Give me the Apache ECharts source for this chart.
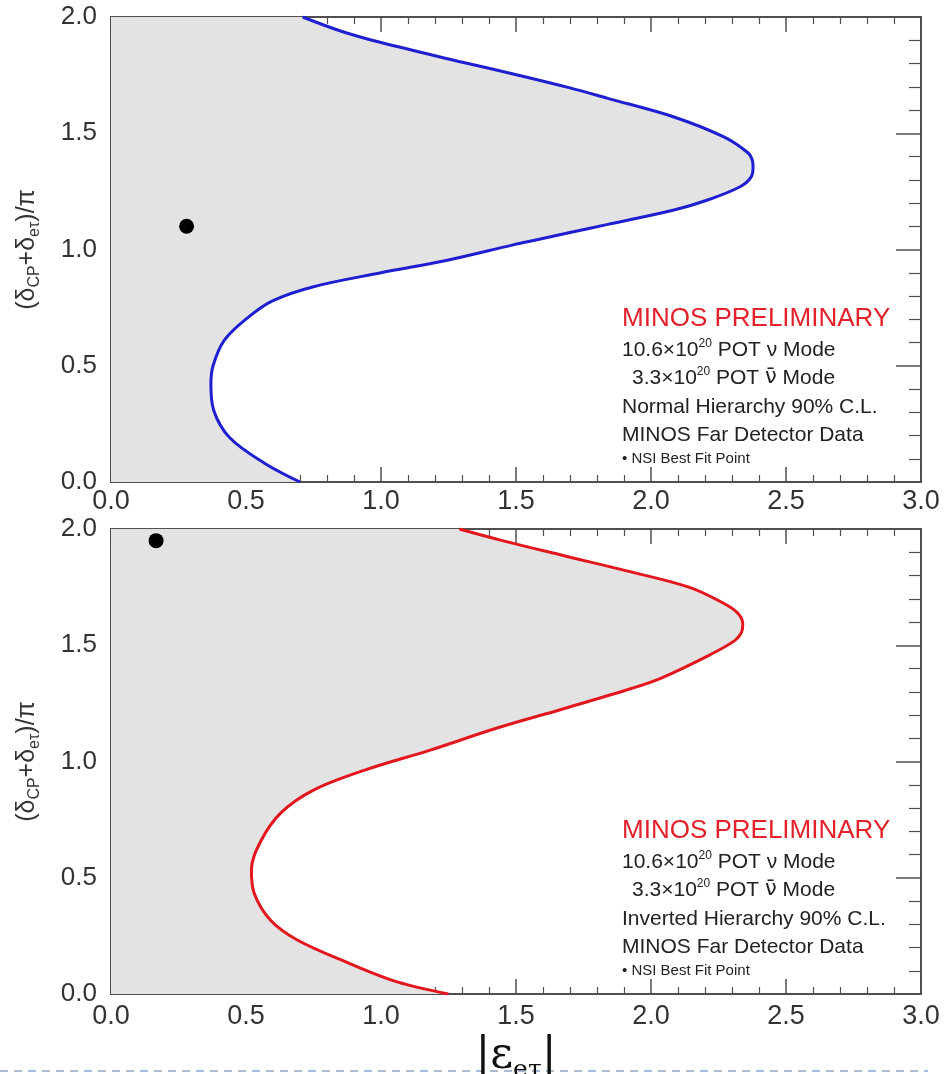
<!DOCTYPE html>
<html><head><meta charset="utf-8">
<script src="https://cdn.jsdelivr.net/npm/echarts@6/dist/echarts.min.js"></script>
<style>html,body{margin:0;padding:0;background:#fff}#c{width:951px;height:1074px}</style>
</head><body><div id="c"></div><script>
// ---- data ----
const xTickLabels = ['0.0', '0.5', '1.0', '1.5', '2.0', '2.5', '3.0'];
const yTickLabels = ['0.0', '0.5', '1.0', '1.5', '2.0'];
const xMin = 0, xMax = 3, yMin = 0, yMax = 2;

// Normal hierarchy 90% C.L. contour (|eps_etau|, (dCP+detau)/pi), ordered by y
const normalX = [0.70, 0.57, 0.44, 0.38, 0.37, 0.378, 0.42, 0.51, 0.60, 0.75, 1.00, 1.25, 1.49, 1.59, 1.70, 1.84, 2.085, 2.21, 2.33, 2.37, 2.378, 2.375, 2.36, 2.27, 2.085, 1.84, 1.70, 1.49, 1.285, 1.00, 0.85, 0.71];
const normalY = [0.00, 0.08, 0.19, 0.31, 0.42, 0.50, 0.61, 0.71, 0.78, 0.84, 0.90, 0.955, 1.02, 1.045, 1.073, 1.108, 1.17, 1.213, 1.27, 1.31, 1.355, 1.385, 1.415, 1.484, 1.57, 1.65, 1.695, 1.755, 1.81, 1.89, 1.94, 2.00];

// Inverted hierarchy 90% C.L. contour
const invertedX = [1.25, 1.06, 0.88, 0.69, 0.59, 0.53, 0.52, 0.556, 0.63, 0.75, 0.94, 1.185, 1.43, 1.67, 1.93, 2.04, 2.22, 2.31, 2.335, 2.34, 2.32, 2.26, 2.14, 1.91, 1.667, 1.45, 1.29];
const invertedY = [0.00, 0.052, 0.133, 0.232, 0.318, 0.434, 0.533, 0.66, 0.78, 0.877, 0.963, 1.05, 1.144, 1.225, 1.315, 1.36, 1.46, 1.52, 1.555, 1.59, 1.64, 1.686, 1.75, 1.82, 1.888, 1.95, 2.00];

const normalBestFit = [0.28, 1.10];
const invertedBestFit = [0.167, 1.95];

const hierarchyLabels = ['Normal Hierarchy 90% C.L.', 'Inverted Hierarchy 90% C.L.'];
const annoLines = ['MINOS PRELIMINARY', '10.6×10{sup|20} POT ν Mode', '3.3×10{sup|20} POT {nu|ν̄} Mode', null, 'MINOS Far Detector Data', '• NSI Best Fit Point'];

// ---- layout ----
const gridLeft = 111, gridW = 810, gridH = 465;
const gridTops = [17, 529];
const axisColor = '#4f4f4f';
const sans = 'Liberation Sans, Arial, Helvetica, sans-serif';
const serif = 'DejaVu Serif, Liberation Serif, serif';

function xAx(gi, pos, showLabel, margin, extra) {
  return Object.assign({
    type: 'value', gridIndex: gi, position: pos, min: xMin, max: xMax, interval: 0.5,
    axisLine: { show: true, onZero: false, lineStyle: { color: axisColor, width: 2 } },
    axisTick: { show: true, inside: true, length: 15, lineStyle: { color: axisColor, width: 1.5 } },
    minorTick: { show: true, splitNumber: 5, length: 7, lineStyle: { color: axisColor, width: 1.2 } },
    splitLine: { show: false }, minorSplitLine: { show: false },
    axisLabel: { show: showLabel, margin: margin, fontSize: 27, color: '#333', fontFamily: sans,
      formatter: v => xTickLabels[Math.round(v / 0.5)] }
  }, extra || {});
}
function yAx(gi, pos, showLabel, extra) {
  return Object.assign({
    type: 'value', gridIndex: gi, position: pos, min: yMin, max: yMax, interval: 0.5,
    axisLine: { show: true, onZero: false, lineStyle: { color: axisColor, width: 2 } },
    axisTick: { show: true, inside: true, length: 25, lineStyle: { color: axisColor, width: 1.5 } },
    minorTick: { show: true, splitNumber: 5, length: 12, lineStyle: { color: axisColor, width: 1.2 } },
    splitLine: { show: false }, minorSplitLine: { show: false },
    axisLabel: { show: showLabel, margin: 14, fontSize: 26, color: '#333', fontFamily: sans,
      formatter: v => yTickLabels[Math.round(v / 0.5)] }
  }, extra || {});
}
const yName = {
  name: '(δ{s|CP}+δ{s|eτ})/π', nameLocation: 'middle', nameGap: 68, nameRotate: 90,
  nameTextStyle: { fontSize: 25, lineHeight: 32, color: '#333', fontFamily: sans,
    rich: { s: { fontSize: 16, lineHeight: 10, verticalAlign: 'bottom', fontFamily: sans, color: '#333' } } }
};

function fillSeries(idx, xs, ys) {
  return {
    type: 'custom', xAxisIndex: idx * 2, yAxisIndex: idx * 2, silent: true, z: 1,
    data: [[xMin, yMin]],
    renderItem: (params, api) => {
      const pts = [api.coord([xMin, yMin])];
      for (let i = 0; i < xs.length; i++) pts.push(api.coord([xs[i], ys[i]]));
      pts.push(api.coord([xMin, yMax]));
      return { type: 'polygon', shape: { points: pts }, style: { fill: '#e3e3e3' } };
    }
  };
}
function lineSeries(idx, xs, ys, color) {
  return {
    type: 'line', xAxisIndex: idx * 2, yAxisIndex: idx * 2, z: 3, showSymbol: false, silent: true,
    smooth: 0.35,
    data: xs.map((x, i) => [x, ys[i]]),
    lineStyle: { color: color, width: 3 }, itemStyle: { color: color }
  };
}
function bestSeries(idx, pt) {
  return { type: 'scatter', xAxisIndex: idx * 2, yAxisIndex: idx * 2, z: 4, silent: true,
    data: [pt], symbolSize: 15, itemStyle: { color: '#000', opacity: 1 } };
}

const lineOffsets = [302, 333, 361, 390, 418, 442];
function annotations(idx) {
  const top = gridTops[idx];
  const els = [];
  annoLines.forEach((t, i) => {
    const text = t === null ? hierarchyLabels[idx] : t;
    let style;
    if (i === 0) style = { fontSize: 26, fill: '#e4212b' };
    else if (i === 5) style = { fontSize: 15, fill: '#222' };
    else style = { fontSize: 21, fill: '#222' };
    els.push({
      type: 'text', x: i === 2 ? 632 : 622, y: top + lineOffsets[i], z: 10, silent: true,
      style: Object.assign({
        text: text, fontFamily: sans, verticalAlign: 'middle', lineHeight: 24,
        rich: {
          sup: { fontSize: 12, lineHeight: 14, verticalAlign: 'top', fontFamily: sans, fill: '#222' },
          nu: { fontSize: 21, lineHeight: 24, fontFamily: 'DejaVu Sans', fill: '#222' }
        }
      }, style)
    });
  });
  return els;
}

const option = {
  animation: false,
  backgroundColor: '#fff',
  grid: gridTops.map(t => ({ left: gridLeft, top: t, width: gridW, height: gridH, outerBoundsMode: 'none', containLabel: false })),
  xAxis: [
    xAx(0, 'bottom', true, 6),
    xAx(0, 'top', false, 6),
    xAx(1, 'bottom', true, 9, {
      name: '|ε{s|eτ}|', nameLocation: 'middle', nameGap: 28,
      nameTextStyle: { fontFamily: serif, fontSize: 44, lineHeight: 52, color: '#111',
        rich: { s: { fontFamily: serif, fontSize: 25, lineHeight: 12, verticalAlign: 'bottom', color: '#111' } } }
    }),
    xAx(1, 'top', false, 6)
  ],
  yAxis: [
    yAx(0, 'left', true, yName),
    yAx(0, 'right', false),
    yAx(1, 'left', true, yName),
    yAx(1, 'right', false)
  ],
  series: [
    fillSeries(0, normalX, normalY),
    lineSeries(0, normalX, normalY, '#1f1fd2'),
    bestSeries(0, normalBestFit),
    fillSeries(1, invertedX, invertedY),
    lineSeries(1, invertedX, invertedY, '#e3161e'),
    bestSeries(1, invertedBestFit)
  ],
  graphic: [
    ...annotations(0),
    ...annotations(1),
    { type: 'line', silent: true, z: 0, shape: { x1: 0, y1: 1071, x2: 928, y2: 1071 },
      style: { stroke: '#a9bdd6', lineWidth: 2, lineDash: [8, 6] } }
  ]
};
const chart = echarts.init(document.getElementById('c'), null, { renderer: 'canvas' });
chart.setOption(option);
</script></body></html>
